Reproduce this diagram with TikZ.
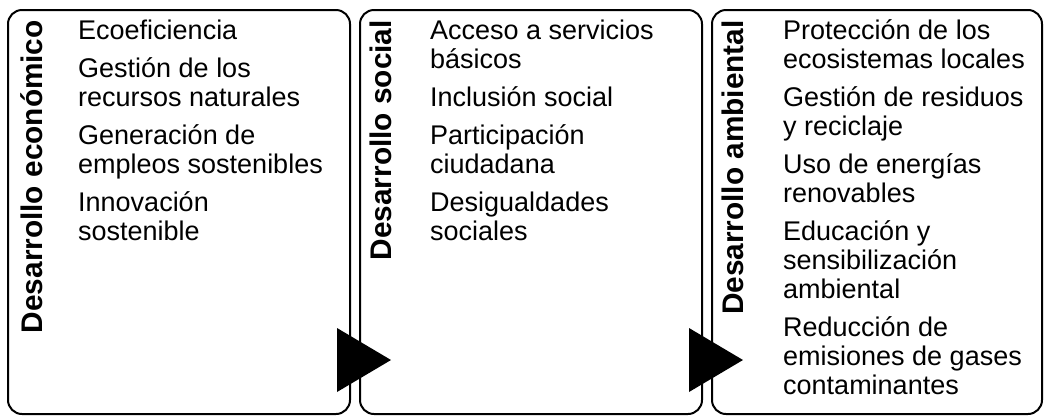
\documentclass[tikz,border=0pt]{standalone}
\usepackage{fontspec}
\setmainfont{Liberation Sans}
\begin{document}
\begin{tikzpicture}[x=1pt,y=-1pt,
  box/.style={draw=black,line width=2pt,rounded corners=14pt,inner sep=0pt,rectangle},
  itm/.style={anchor=base west,inner sep=0pt,font=\fontsize{27}{29}\selectfont},
  lab/.style={anchor=base east,rotate=90,inner sep=0pt,font=\fontsize{29.8}{32}\selectfont\bfseries},
  tri/.style={fill=black}]
\useasboundingbox (0,0) rectangle (1044,416);
% boxes
\node[box,minimum width=342pt,minimum height=404pt] (b1) at (179,212) {};
\node[box,minimum width=342pt,minimum height=404pt] (b2) at (531,212) {};
\node[box,minimum width=330pt,minimum height=404pt] (b3) at (877,212) {};
% labels
\node[lab] (l1) at (42,20) {Desarrollo económico};
\node[lab] (l2) at (391,20) {Desarrollo social};
\node[lab] (l3) at (743,20) {Desarrollo ambiental};
% box 1 items
\node[itm] (a1) at (78,39) {Ecoeficiencia};
\node[itm] (a2) at (78,77) {Gestión de los};
\node[itm] (a3) at (78,106) {recursos naturales};
\node[itm] (a4) at (78,144) {Generación de};
\node[itm] (a5) at (78,173) {empleos sostenibles};
\node[itm] (a6) at (78,211) {Innovación};
\node[itm] (a7) at (78,240) {sostenible};
% box 2 items
\node[itm] (s1) at (430,39) {Acceso a servicios};
\node[itm] (s2) at (430,68) {básicos};
\node[itm] (s3) at (430,106) {Inclusión social};
\node[itm] (s4) at (430,144) {Participación};
\node[itm] (s5) at (430,173) {ciudadana};
\node[itm] (s6) at (430,211) {Desigualdades};
\node[itm] (s7) at (430,240) {sociales};
% box 3 items
\node[itm] (e1) at (783,39) {Protección de los};
\node[itm] (e2) at (783,68) {ecosistemas locales};
\node[itm] (e3) at (783,106) {Gestión de residuos};
\node[itm] (e4) at (783,135) {y reciclaje};
\node[itm] (e5) at (783,173) {Uso de energías};
\node[itm] (e6) at (783,202) {renovables};
\node[itm] (e7) at (783,240) {Educación y};
\node[itm] (e8) at (783,269) {sensibilización};
\node[itm] (e9) at (783,298) {ambiental};
\node[itm] (e10) at (783,336) {Reducción de};
\node[itm] (e11) at (783,365) {emisiones de gases};
\node[itm] (e12) at (783,394) {contaminantes};
% arrows
\fill[tri] ([xshift=-14pt]b1.east |- 0,360) -- ++(0,-32) -- ++(54,32) -- ++(-54,32) -- cycle;
\fill[tri] ([xshift=-14pt]b2.east |- 0,360) -- ++(0,-32) -- ++(54,32) -- ++(-54,32) -- cycle;
\end{tikzpicture}
\end{document}
